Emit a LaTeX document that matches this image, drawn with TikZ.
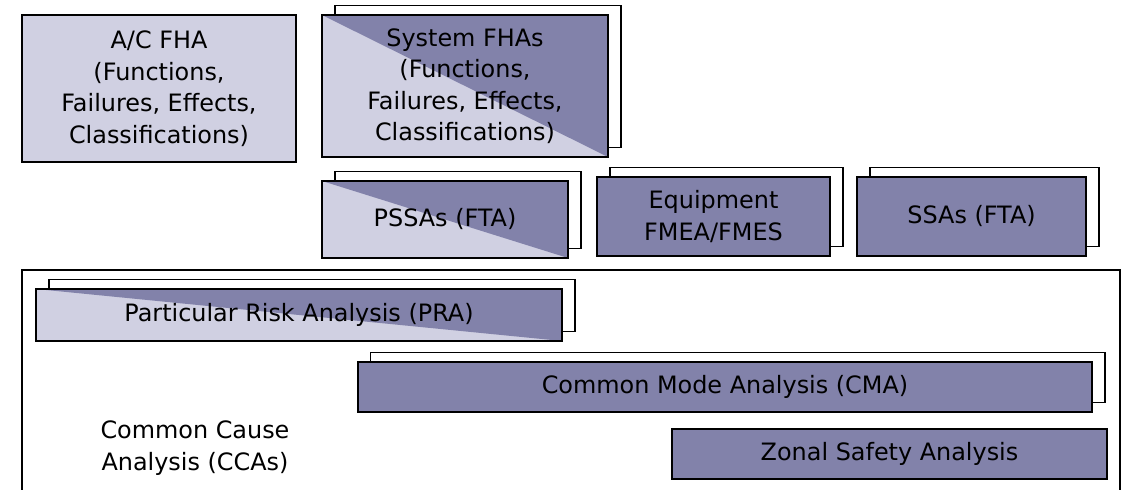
\documentclass[tikz,border=0pt]{standalone}
\usepackage{fontspec}
\setmainfont{DejaVu Sans}
\usetikzlibrary{shadows}
\definecolor{palebox}{RGB}{208,208,226}
\definecolor{darkbox}{RGB}{130,130,170}

\begin{document}
\begin{tikzpicture}[
  x=0.025cm, y=-0.025cm,
  font=\fontsize{17}{22.4}\selectfont,
  sheet/.style={draw, line width=1.1pt, inner sep=2pt, align=center},
  palesheet/.style={sheet, fill=palebox},
  darksheet/.style={sheet, fill=darkbox},
  splitsheet/.style={sheet, fill=palebox,
    path picture={\fill[darkbox] (path picture bounding box.north west)
      -- (path picture bounding box.north east)
      -- (path picture bounding box.south east) -- cycle;}},
  stacked/.style={copy shadow={shadow xshift=3.2mm, shadow yshift=2.4mm,
    fill=white, draw=black, line width=1.1pt}}
]
\useasboundingbox (0,0) rectangle (1122,490);

% top row: hazard assessments
\node[palesheet, minimum width=6.85cm, minimum height=3.675cm] (acfha) at (159,88.5)
  {A/C FHA\\(Functions,\\Failures, Effects,\\Classifications)};
\node[splitsheet, stacked, minimum width=7.15cm, minimum height=3.55cm] (sysfha) at (465,86)
  {System FHAs\\(Functions,\\Failures, Effects,\\Classifications)};

% middle row
\node[splitsheet, stacked, minimum width=6.15cm, minimum height=1.925cm] (pssa) at (445,219.5)
  {PSSAs (FTA)};
\node[darksheet, stacked, minimum width=5.825cm, minimum height=1.975cm] (fmea) at (713.5,216.5)
  {Equipment\\FMEA/FMES};
\node[darksheet, stacked, minimum width=5.725cm, minimum height=1.975cm] (ssa) at (971.5,216.5)
  {SSAs (FTA)};

% bottom: common cause analyses
\draw[line width=1.1pt] (22,490) -- (22,270) -- (1120,270) -- (1120,490);

\node[splitsheet, stacked, minimum width=13.15cm, minimum height=1.3cm] (pra) at (299,315)
  {Particular Risk Analysis (PRA)};
\node[darksheet, stacked, minimum width=18.35cm, minimum height=1.25cm] (cma) at (725,387)
  {Common Mode Analysis (CMA)};
\node[darksheet, minimum width=10.875cm, minimum height=1.25cm] (zsa) at (889.5,454)
  {Zonal Safety Analysis};

\node[align=center] (cca) at (195,448) {Common Cause\\Analysis (CCAs)};

\end{tikzpicture}
\end{document}
